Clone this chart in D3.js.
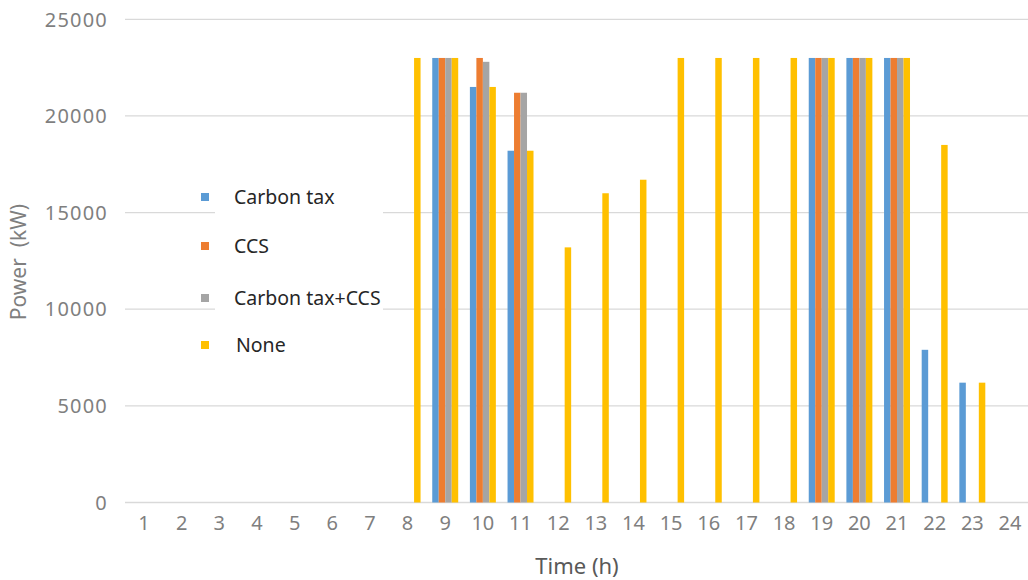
<!DOCTYPE html>
<html><head><meta charset="utf-8">
<script src="https://cdn.jsdelivr.net/npm/d3@7"></script>
<style>body{margin:0;background:#fff}svg{display:block}</style>
</head><body><svg id="c" width="1028" height="580"></svg>
<script>
const hours = ["1","2","3","4","5","6","7","8","9","10","11","12","13","14","15","16","17","18","19","20","21","22","23","24"];
const seriesNames = ["Carbon tax","CCS","Carbon tax+CCS","None"];
const carbonTax   = [0,0,0,0,0,0,0,0,23000,21500,18200,0,0,0,0,0,0,0,23000,23000,23000,7900,6200,0];
const ccs         = [0,0,0,0,0,0,0,0,23000,23000,21200,0,0,0,0,0,0,0,23000,23000,23000,0,0,0];
const carbonTaxCcs= [0,0,0,0,0,0,0,0,23000,22800,21200,0,0,0,0,0,0,0,23000,23000,23000,0,0,0];
const none        = [0,0,0,0,0,0,0,23000,23000,21500,18200,13200,16000,16700,23000,23000,23000,23000,23000,23000,23000,18500,6200,0];
const yTicks = [0,5000,10000,15000,20000,25000];
const colors = ["#5B9BD5","#ED7D31","#A5A5A5","#FFC000"];
const allSeries = [carbonTax, ccs, carbonTaxCcs, none];

const svg = d3.select("#c");
const font = "'Noto Sans', 'Open Sans', sans-serif";
const x = d3.scaleBand().domain(hours).range([125.2, 1028.8]).padding(0);
const inner = d3.scaleBand().domain(seriesNames).range([0, x.bandwidth()]).paddingOuter(0.9);
const y = d3.scaleLinear().domain([0,25000]).range([502.5, 19.3]);

// gridlines
svg.append("g").selectAll("line").data(yTicks).join("line")
  .attr("x1",125).attr("x2",1028).attr("y1",d=>y(d)).attr("y2",d=>y(d))
  .attr("stroke","#D9D9D9").attr("stroke-width",1.3);

// y tick labels
svg.append("g").selectAll("text").data(yTicks).join("text")
  .attr("x",108).attr("y",d=>y(d)).attr("dy","0.36em").attr("text-anchor","end")
  .attr("font-family",font).attr("font-size",20).attr("letter-spacing",1.2).attr("fill","#7F7F7F")
  .text(d=>d);

// x tick labels
svg.append("g").selectAll("text").data(hours).join("text")
  .attr("x",d=>x(d)+x.bandwidth()/2).attr("y",530).attr("text-anchor","middle")
  .attr("font-family",font).attr("font-size",20).attr("fill","#7F7F7F")
  .text(d=>d);

// bars
const g = svg.append("g");
allSeries.forEach((vals,si)=>{
  g.append("g").selectAll("rect").data(vals.map((v,i)=>({h:hours[i],v}))).join("rect")
    .filter(d=>d.v>0)
    .attr("x",d=>x(d.h)+inner(seriesNames[si]))
    .attr("width",inner.bandwidth())
    .attr("y",d=>y(d.v)).attr("height",d=>y(0)-y(d.v))
    .attr("fill",colors[si]);
});

// legend
svg.append("rect").attr("x",215).attr("y",175).attr("width",168).attr("height",185).attr("fill","#fff");
const legY = [197,246,298,345];
const lg = svg.append("g").selectAll("g").data(seriesNames).join("g")
  .attr("transform",(d,i)=>`translate(0,${legY[i]})`);
lg.append("rect").attr("x",201).attr("y",-4).attr("width",8).attr("height",8).attr("fill",(d,i)=>colors[i]);
lg.append("text").attr("x",(d,i)=>i===3?236:234).attr("y",0).attr("dy","0.35em")
  .attr("font-family",font).attr("font-size",19.5).attr("fill","#262626").text(d=>d);

// axis titles
svg.append("text").attr("x",577).attr("y",574).attr("text-anchor","middle")
  .attr("font-family",font).attr("font-size",22).attr("fill","#595959").text("Time (h)");
svg.append("text").attr("transform","translate(26,262) rotate(-90)").attr("text-anchor","middle")
  .attr("font-family",font).attr("font-size",21).attr("fill","#7F7F7F")
  .style("white-space","pre").text("Power  (kW)");
</script></body></html>
